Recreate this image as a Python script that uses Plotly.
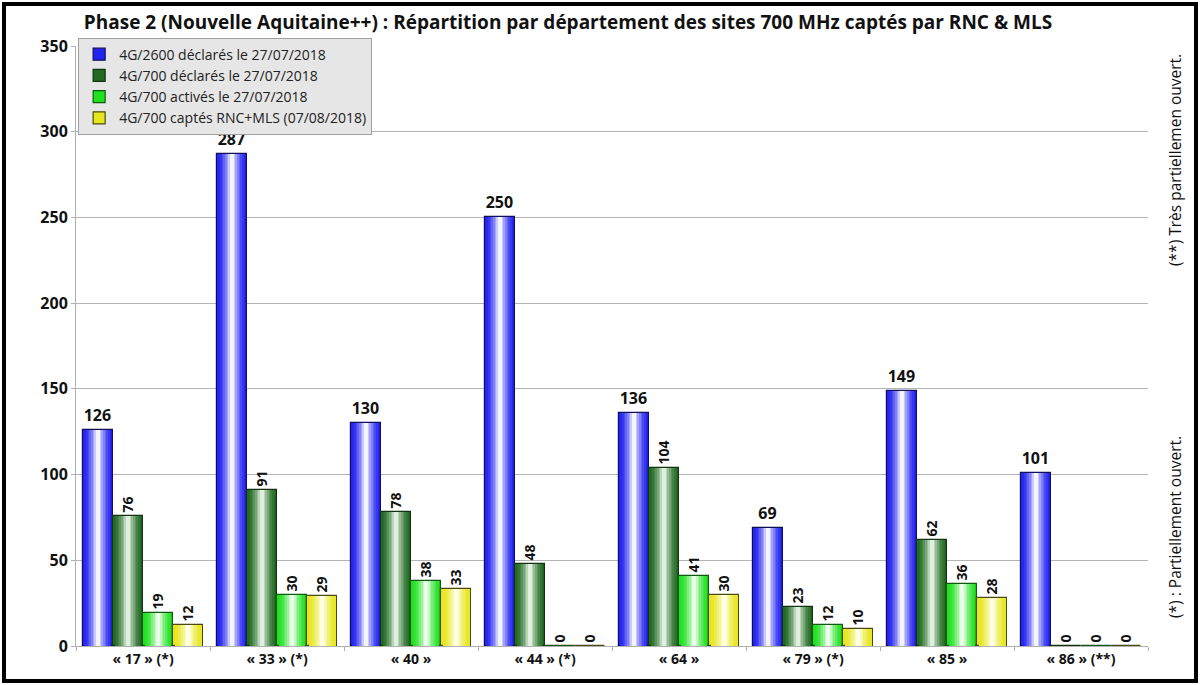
import plotly.graph_objects as go

categories = ["« 17 » (*)", "« 33 » (*)", "« 40 »", "« 44 » (*)",
              "« 64 »", "« 79 » (*)", "« 85 »", "« 86 » (**)"]
series_names = ["4G/2600 déclarés le 27/07/2018",
                "4G/700 déclarés le 27/07/2018",
                "4G/700 activés le 27/07/2018",
                "4G/700 captés RNC+MLS (07/08/2018)"]
blue_2600 = [126, 287, 130, 250, 136, 69, 149, 101]
green_700_declared = [76, 91, 78, 48, 104, 23, 62, 0]
lightgreen_700_active = [19, 30, 38, 0, 41, 12, 36, 0]
yellow_700_captured = [12, 29, 33, 0, 30, 10, 28, 0]
y_ticks = [0, 50, 100, 150, 200, 250, 300, 350]

series_values = [blue_2600, green_700_declared, lightgreen_700_active, yellow_700_captured]
edge_colors = ["#2222f2", "#226a22", "#20e020", "#e6e61e"]
center_colors = ["#f4f4ff", "#e0f0e0", "#eaffea", "#ffffe6"]
line_colors = ["#10105a", "#123212", "#0f5a0f", "#4a4a0c"]
text_angles = [0, -90, -90, -90]
text_sizes = [16, 14, 14, 14]

FONT = "Open Sans"


def mix(c1, c2, t):
    a = [int(c1[i:i + 2], 16) for i in (1, 3, 5)]
    b = [int(c2[i:i + 2], 16) for i in (1, 3, 5)]
    return "#" + "".join(f"{round(a[j] + (b[j] - a[j]) * t):02x}" for j in range(3))


fig = go.Figure()
bar_w = 0.225
n_layers = 9
for i, vals in enumerate(series_values):
    center = -0.45 + bar_w * (i + 0.5)
    for k in range(n_layers):
        frac = k / (n_layers - 1)
        w = bar_w * (1 - 0.88 * frac)
        t = frac ** 1.7
        col = mix(edge_colors[i], center_colors[i], t)
        outer = k == 0
        fig.add_trace(go.Bar(
            x=categories, y=vals,
            name=series_names[i],
            width=w, offset=center - w / 2,
            marker=dict(color=col,
                        line=dict(color=line_colors[i], width=1.2 if outer else 0)),
            text=[str(v) for v in vals] if outer else None,
            textposition="outside" if outer else "none",
            textangle=text_angles[i],
            textfont=dict(family=FONT, size=text_sizes[i], color="#111111", weight=700),
            cliponaxis=False,
            showlegend=outer,
            legendgroup=series_names[i],
            hoverinfo="skip" if not outer else None,
        ))

W, H = 1200, 685
ml, mr, mt, mb = 76, 52, 46, 39
pw, ph = W - ml - mr, H - mt - mb


def px_x(p):
    return (p - ml) / pw


def px_y(p):
    return 1 - (p - mt) / ph


fig.update_layout(
    width=W, height=H, autosize=False,
    barmode="overlay",
    paper_bgcolor="white", plot_bgcolor="white",
    margin=dict(l=ml, r=mr, t=mt, b=mb),
    font=dict(family=FONT, color="#111111"),
    title=dict(text="Phase 2 (Nouvelle Aquitaine++) : Répartition par département des sites 700 MHz captés par RNC & MLS",
               x=568 / W, xref="container", xanchor="center",
               y=1 - 22 / H, yref="container", yanchor="middle",
               font=dict(family=FONT, size=19, color="#111111", weight=700)),
    legend=dict(x=0.002, y=1.014, xanchor="left", yanchor="top",
                bgcolor="#e6e6e6", bordercolor="#a0a0a0", borderwidth=1,
                font=dict(family=FONT, size=14, color="#222222"),
                traceorder="normal", tracegroupgap=0),
    xaxis=dict(type="category", showgrid=False, showline=True, linecolor="#b0b0b0",
               ticks="outside", tickson="boundaries", ticklen=4, tickcolor="#b0b0b0",
               tickfont=dict(family=FONT, size=14, color="#111111", weight=700),
               range=[-0.5, 7.5]),
    yaxis=dict(range=[0, 350], tickvals=y_ticks, showgrid=True, gridcolor="#b4b4b4",
               gridwidth=1, showline=True, linecolor="#b0b0b0", ticks="outside",
               ticklen=4, tickcolor="#b0b0b0", zeroline=False,
               tickfont=dict(family=FONT, size=16, color="#111111", weight=700)),
    bargap=0,
)

fig.add_annotation(text="(**) Très partiellemen ouvert.", textangle=-90,
                   xref="paper", yref="paper", x=px_x(1175), y=px_y(160),
                   xanchor="center", yanchor="middle",
                   showarrow=False, font=dict(family=FONT, size=15.5, color="#111111"))
fig.add_annotation(text="(*) : Partiellement ouvert.", textangle=-90,
                   xref="paper", yref="paper", x=px_x(1175), y=px_y(527),
                   xanchor="center", yanchor="middle",
                   showarrow=False, font=dict(family=FONT, size=15.5, color="#111111"))

# outer black frame
fig.add_shape(type="rect", xref="paper", yref="paper",
              x0=px_x(4), x1=px_x(W - 4), y0=px_y(H - 4), y1=px_y(4),
              line=dict(color="black", width=4), fillcolor="rgba(0,0,0,0)", layer="above")

fig.write_html("out.html", config={"displayModeBar": False},
               post_script="document.body.style.margin='0';document.body.style.padding='0';")
